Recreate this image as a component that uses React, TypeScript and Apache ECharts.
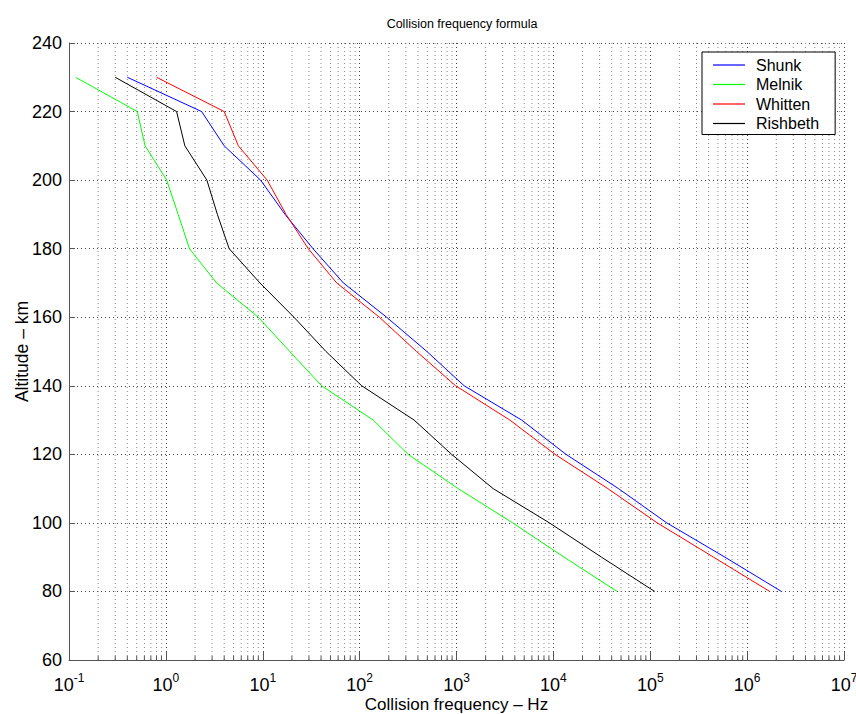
import React, { useEffect, useRef } from 'react';
import * as echarts from 'echarts';

// Altitude (km) of each sample
const altitudes = [80, 90, 100, 110, 120, 130, 140, 150, 160, 170, 180, 190, 200, 210, 220, 230];
// Collision frequency (Hz) per model, at each altitude above
const shunk = [2.26e6, 5.9e5, 1.48e5, 4.7e4, 1.35e4, 4.7e3, 1.2e3, 495, 190, 68, 33, 17, 9.5, 4.0, 2.34, 0.40];
const melnik = [4.55e4, 1.29e4, 3.8e3, 1.04e3, 316, 138, 40.5, 19, 9.0, 3.34, 1.75, 1.34, 1.02, 0.61, 0.507, 0.117];
const whitten = [1.71e6, 4.5e5, 1.18e5, 3.65e4, 1.04e4, 3.55e3, 980, 387, 160, 58, 29.5, 17.4, 11.1, 5.6, 4.0, 0.80];
const rishbeth = [1.11e5, 3.14e4, 9.1e3, 2.39e3, 890, 365, 105, 45, 21, 9.35, 4.5, 3.4, 2.65, 1.57, 1.29, 0.30];

const seriesNames = ['Shunk', 'Melnik', 'Whitten', 'Rishbeth'];
const seriesColors = ['#0000ff', '#00ff00', '#ff0000', '#000000'];
const seriesValues = [shunk, melnik, whitten, rishbeth];

// minor tick positions on the log axis (2..9 x 10^k)
const minorMultipliers = [2, 3, 4, 5, 6, 7, 8, 9];
const decadeExponents = [-1, 0, 1, 2, 3, 4, 5, 6];

const FONT = "'Liberation Sans', Arial, Helvetica, sans-serif";

export default function App() {
  const ref = useRef<HTMLDivElement>(null);

  useEffect(() => {
    if (!ref.current) return;
    const chart = echarts.init(ref.current, undefined, { renderer: 'svg' });

    const minorTicks: number[][] = [];
    decadeExponents.forEach((e) => {
      minorMultipliers.forEach((m) => {
        minorTicks.push([m * Math.pow(10, e), 60]);
      });
    });

    const lineSeries = seriesNames.map((name, i) => ({
      name,
      type: 'line',
      data: seriesValues[i].map((v, j) => [v, altitudes[j]]),
      symbol: 'none',
      showSymbol: false,
      lineStyle: { color: seriesColors[i], width: 1 },
      itemStyle: { color: seriesColors[i] },
      z: 5,
    }));

    const option: any = {
      animation: false,
      backgroundColor: '#ffffff',
      textStyle: { fontFamily: FONT },
      title: {
        text: 'Collision frequency formula',
        left: 457,
        top: 12,
        textAlign: 'center',
        textStyle: { fontFamily: FONT, fontSize: 12.5, fontWeight: 'normal', color: '#000' },
      },
      legend: {
        data: seriesNames,
        orient: 'vertical',
        left: 702,
        top: 52,
        padding: [5, 16, 3, 11],
        icon: 'rect',
        itemWidth: 32,
        itemHeight: 1.2,
        itemGap: 3.5,
        backgroundColor: '#ffffff',
        borderColor: '#000000',
        borderWidth: 1,
        borderRadius: 0,
        textStyle: { fontFamily: FONT, fontSize: 16, color: '#000', lineHeight: 16, padding: [0, 0, 0, 6] },
      },
      grid: { left: 69, top: 43, right: 12, bottom: 54, containLabel: false, outerBoundsMode: 'none' },
      xAxis: {
        type: 'log',
        logBase: 10,
        min: 0.1,
        max: 1e7,
        name: 'Collision frequency \u2013 Hz',
        nameLocation: 'middle',
        nameGap: 36,
        nameMoveOverlap: false,
        nameTextStyle: { fontFamily: FONT, fontSize: 17, color: '#000' },
        axisLine: { show: true, lineStyle: { color: '#555', width: 1 } },
        axisTick: { show: true, inside: true, length: 8, lineStyle: { color: '#555' } },
        axisLabel: {
          margin: 12,
          color: '#000',
          formatter: (v: number) => {
            const e = Math.round(Math.log10(v));
            return '{b|10}{e|' + e + '}';
          },
          rich: {
            b: { fontFamily: FONT, fontSize: 18, color: '#000', verticalAlign: 'bottom' },
            e: { fontFamily: FONT, fontSize: 12, color: '#000', verticalAlign: 'bottom', padding: [0, 0, 10, 0] },
          },
        },
        splitLine: { show: true, lineStyle: { color: '#444', width: 1, type: [1, 3] } },
      },
      yAxis: {
        type: 'value',
        min: 60,
        max: 240,
        interval: 20,
        name: 'Altitude \u2013 km',
        nameLocation: 'middle',
        nameGap: 38,
        nameMoveOverlap: false,
        nameTextStyle: { fontFamily: FONT, fontSize: 17.5, color: '#000' },
        axisLine: { show: true, lineStyle: { color: '#555', width: 1 } },
        axisTick: { show: true, inside: true, length: 6, lineStyle: { color: '#555' } },
        axisLabel: { margin: 7, color: '#000', fontFamily: FONT, fontSize: 18 },
        splitLine: { show: true, lineStyle: { color: '#444', width: 1, type: [1, 3] } },
      },
      series: [
        {
          name: 'minor-grid',
          type: 'custom',
          silent: true,
          z: 1,
          data: minorTicks,
          encode: { x: 0, y: 1 },
          renderItem: (_params: any, api: any) => {
            const v = api.value(0);
            const top = api.coord([v, 240]);
            const bot = api.coord([v, 60]);
            return {
              type: 'group',
              children: [
                {
                  type: 'line',
                  shape: { x1: top[0], y1: top[1], x2: bot[0], y2: bot[1] },
                  style: { stroke: '#888', lineWidth: 1, lineDash: [1, 3] },
                },
                {
                  type: 'line',
                  shape: { x1: bot[0], y1: bot[1], x2: bot[0], y2: bot[1] - 4 },
                  style: { stroke: '#555', lineWidth: 1 },
                },
              ],
            };
          },
        },
        ...lineSeries,
      ],
    };

    chart.setOption(option);
    return () => {
      chart.dispose();
    };
  }, []);

  return (
    <div
      ref={ref}
      style={{ position: 'fixed', left: 0, top: 0, width: 856, height: 714, background: '#fff' }}
    />
  );
}
